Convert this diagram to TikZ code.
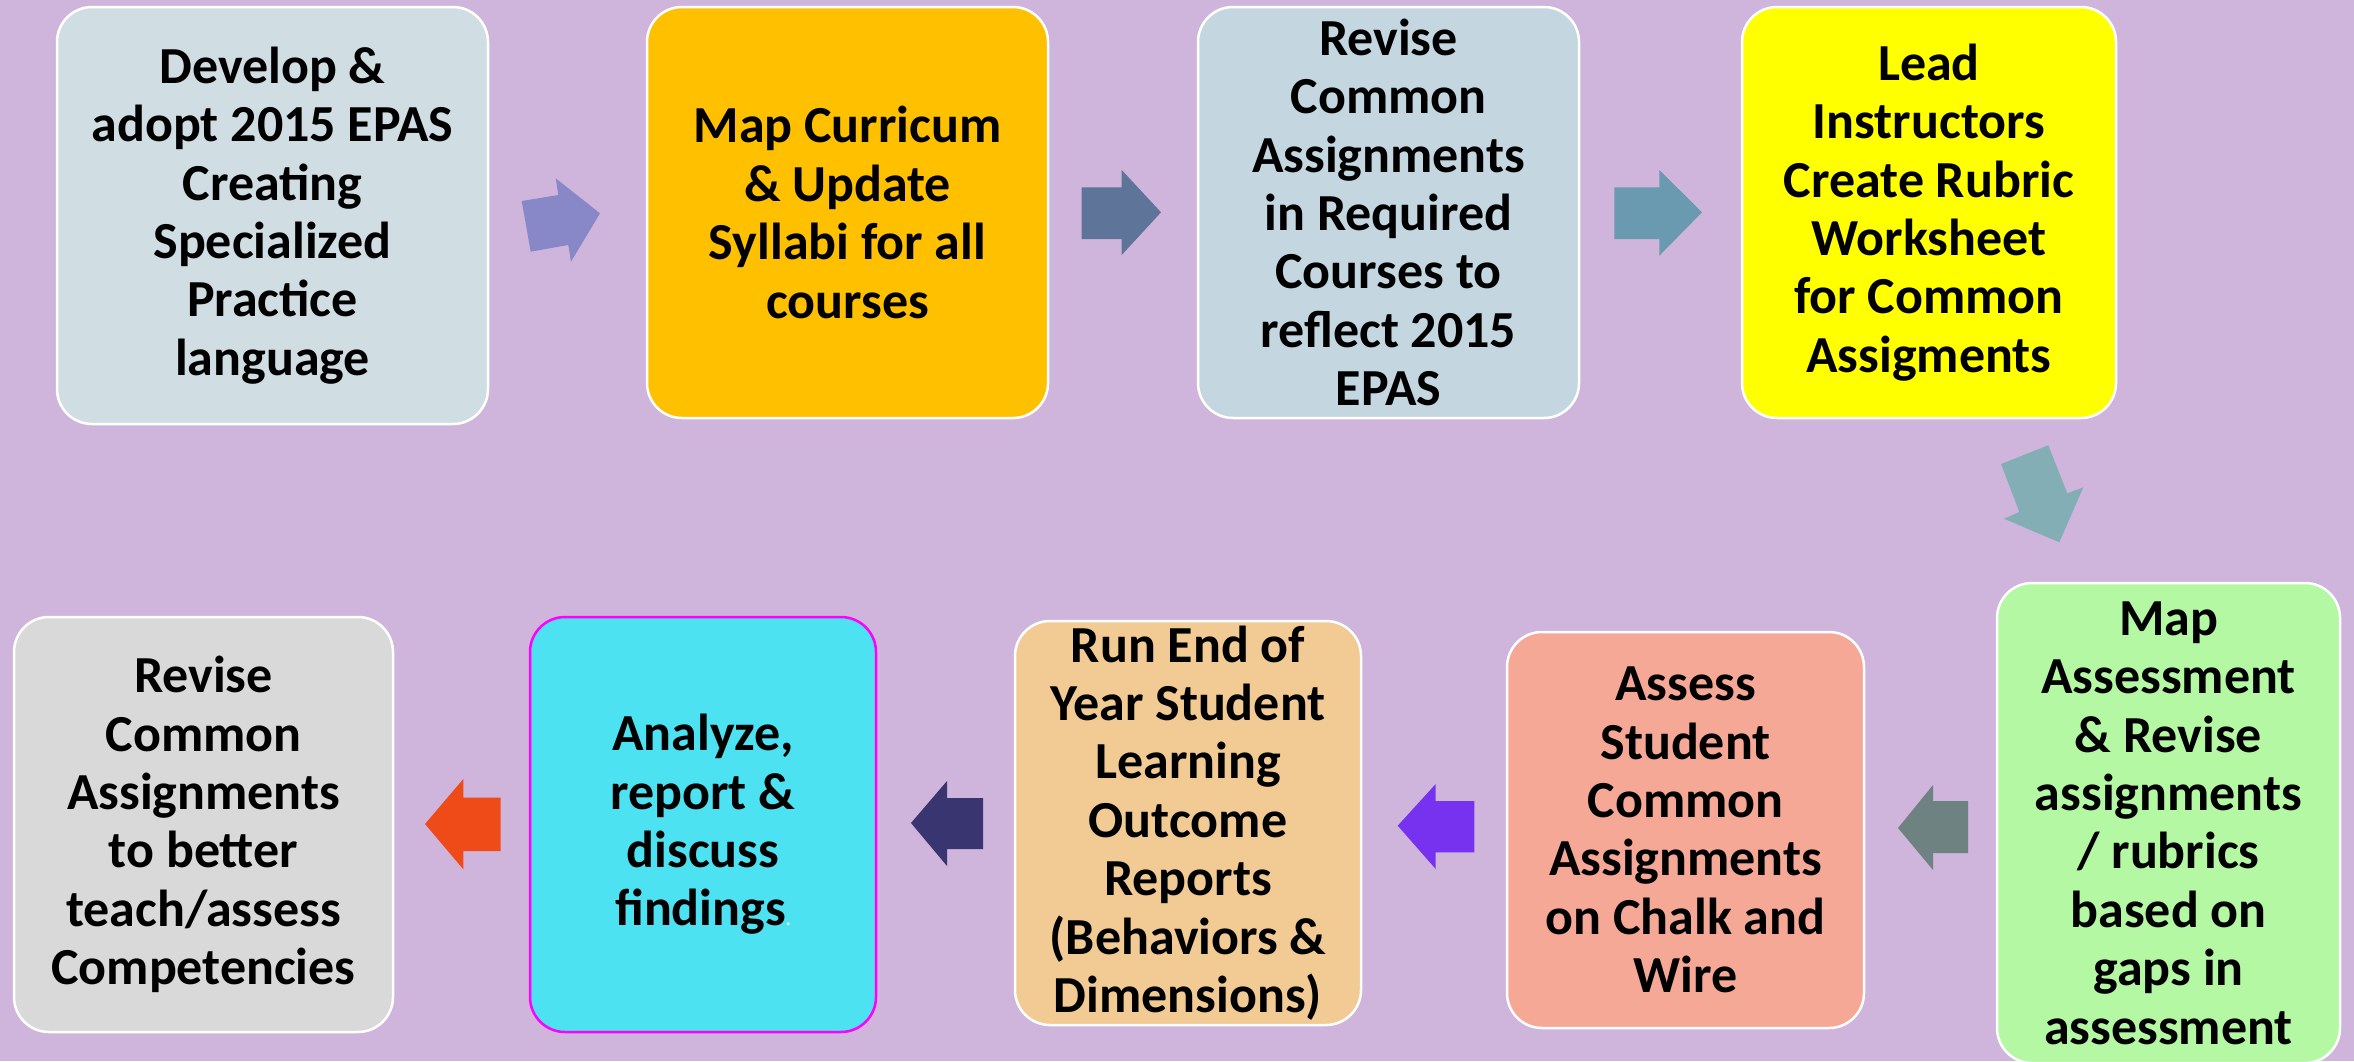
\documentclass[tikz,border=0pt]{standalone}
\usepackage{fontspec}
\setmainfont{Carlito}
\definecolor{bgc}{HTML}{CFB4DC}
\definecolor{c1}{HTML}{D0DEE3}
\definecolor{c2}{HTML}{FFC000}
\definecolor{c3}{HTML}{C4D7E0}
\definecolor{c4}{HTML}{FFFF00}
\definecolor{c5}{HTML}{B4F8A4}
\definecolor{c6}{HTML}{F6A896}
\definecolor{c7}{HTML}{F2CA94}
\definecolor{c8}{HTML}{4DE2F2}
\definecolor{c9}{HTML}{D9D9D9}
\definecolor{mag}{HTML}{FF00FF}
\definecolor{ar1}{HTML}{8888C8}
\definecolor{ar2}{HTML}{5E7498}
\definecolor{ar3}{HTML}{6A9AB0}
\definecolor{ar4}{HTML}{84AEB5}
\definecolor{ar5}{HTML}{6E8282}
\definecolor{ar6}{HTML}{7632EE}
\definecolor{ar7}{HTML}{393570}
\definecolor{ar8}{HTML}{EE4B19}
\begin{document}
\begin{tikzpicture}[x=0.5pt,y=-0.5pt,
  box/.style={draw=white, line width=1.25pt, rounded corners=17.5pt, align=center,
    inner sep=0pt, font=\fontsize{26}{29.2}\selectfont\bfseries}]
\fill[bgc] (0,0) rectangle (2354,1061);
\useasboundingbox (0,0) rectangle (2354,1061);
\clip (0,0) rectangle (2354,1061);
% top row
\node[box, fill=c1, minimum width=215.5pt, minimum height=208.5pt] (b1) at (272.5,215.5)
  {Develop \&\\adopt 2015 EPAS\\Creating\\Specialized\\Practice\\language};
\node[box, fill=c2, minimum width=200.5pt, minimum height=205.5pt] (b2) at (847.5,212.5)
  {Map Curricum\\\& Update\\Syllabi for all\\courses};
\node[box, fill=c3, minimum width=190.5pt, minimum height=205.5pt] (b3) at (1388.5,212.5)
  {Revise\\Common\\Assignments\\in Required\\Courses to\\reflect 2015\\EPAS};
\node[box, fill=c4, minimum width=187pt, minimum height=205.5pt] (b4) at (1929,212.5)
  {Lead\\Instructors\\Create Rubric\\Worksheet\\for Common\\Assigments};
% bottom row
\node[box, fill=c5, minimum width=171.5pt, minimum height=240pt] (b5) at (2168.5,823)
  {Map\\Assessment\\\& Revise\\assignments\\/ rubrics\\based on\\gaps in\\assessment};
\node[box, fill=c6, minimum width=178.5pt, minimum height=198pt] (b6) at (1685.5,830)
  {Assess\\Student\\Common\\Assignments\\on Chalk and\\Wire};
\node[box, fill=c7, minimum width=173pt, minimum height=202pt] (b7) at (1188,823)
  {Run End of\\Year Student\\Learning\\Outcome\\Reports\\(Behaviors \&\\Dimensions)};
\node[box, fill=c8, draw=mag, minimum width=173pt, minimum height=207.5pt] (b8) at (703,824.5)
  {Analyze,\\report \&\\discuss\\findings{\color{white}\fontsize{9}{9}\selectfont.}};
\node[box, fill=c9, minimum width=189.5pt, minimum height=207.5pt] (b9) at (203.5,824.5)
  {Revise\\Common\\Assignments\\to better\\teach/assess\\Competencies};
% block arrows
\fill[ar1] (521.7,201) -- (558.3,195) -- (555.7,178.3) -- (600,213.3) -- (571,261.7) -- (568.3,245) -- (530.7,251.7) -- cycle;
\fill[ar2] (1081.7,187.3) -- (1121.7,187.3) -- (1121.7,170) -- (1161,212.3) -- (1121.7,255) -- (1121.7,239) -- (1081.7,239) -- cycle;
\fill[ar3] (1614.3,187.3) -- (1659.3,187.3) -- (1659.3,170) -- (1702,212.3) -- (1659.3,255.7) -- (1659.3,239) -- (1614.3,239) -- cycle;
\fill[ar4] (2001,464) -- (2048.3,445.3) -- (2067.3,493.3) -- (2083.3,487.3) -- (2059.3,542.3) -- (2004,518.7) -- (2019.3,512) -- cycle;
\fill[ar5] (1968,801) -- (1933,801) -- (1933,785) -- (1898,828) -- (1933,870) -- (1933,853) -- (1968,853) -- cycle;
\fill[ar6] (1474.3,801) -- (1435.7,801) -- (1435.7,784) -- (1397.7,825.7) -- (1435.7,869) -- (1435.7,852.3) -- (1474.3,852.3) -- cycle;
\fill[ar7] (983,798) -- (947,798) -- (947,781) -- (911,823) -- (947,866) -- (947,849) -- (983,849) -- cycle;
\fill[ar8] (500.7,797.7) -- (463.3,797.7) -- (463.3,779) -- (425,824) -- (463.3,869.3) -- (463.3,851) -- (500.7,851) -- cycle;
\end{tikzpicture}
\end{document}
